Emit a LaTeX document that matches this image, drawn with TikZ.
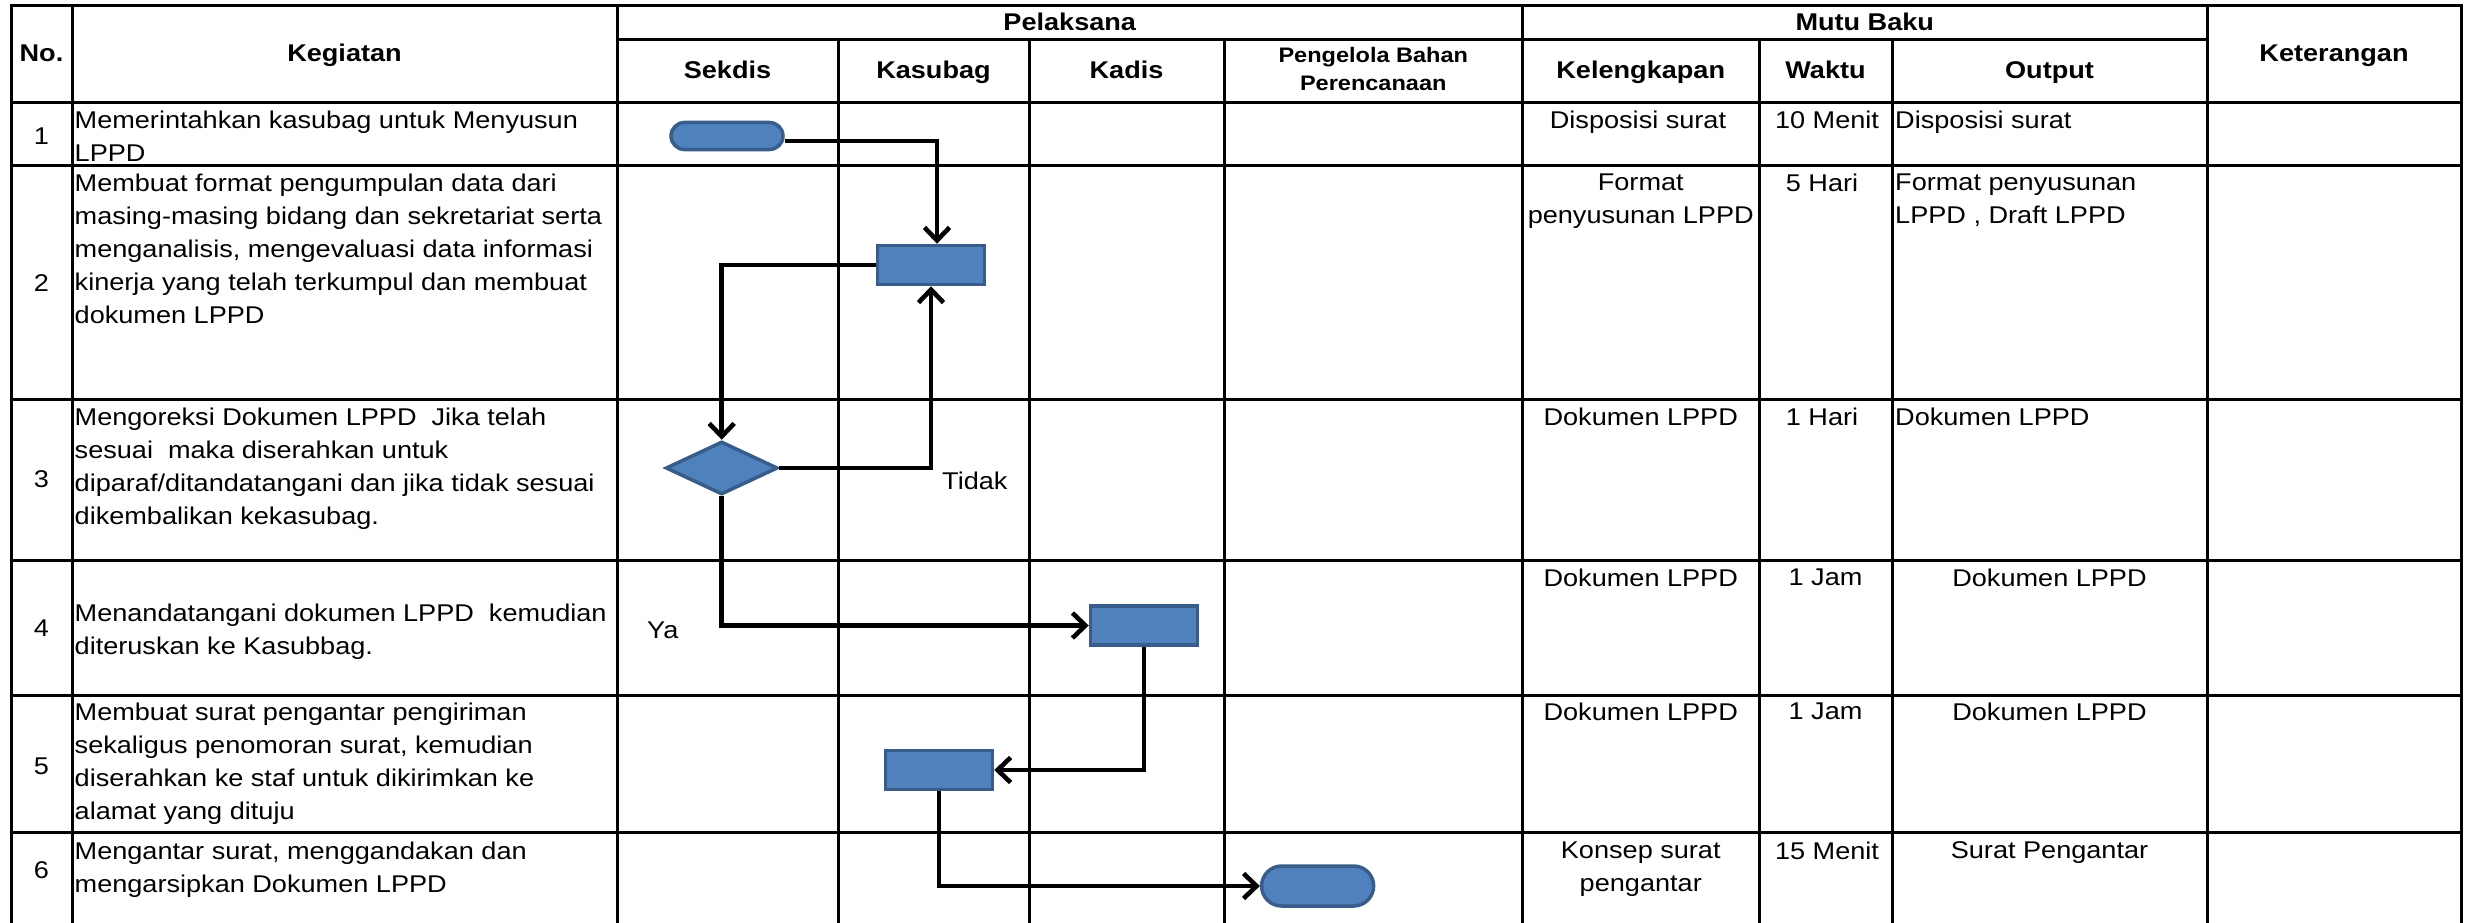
\documentclass[tikz,border=0pt]{standalone}
\usepackage{fontspec}
\setmainfont[FakeStretch=1.12]{Liberation Sans}
\usetikzlibrary{arrows.meta,shapes.geometric,shapes.misc}
\definecolor{shpfill}{RGB}{79,129,189}
\definecolor{shpline}{RGB}{56,93,138}
\tikzset{
  >={Straight Barb[length=13pt,width=25pt]},
  every node/.style={font=\fontsize{24.2}{33}\selectfont},
  tabline/.style={line width=3pt,line cap=rect},
  hd/.style={font=\fontsize{24.2}{33}\selectfont\bfseries,anchor=base,inner sep=0pt},
  cell/.style={anchor=north west,align=left,inner sep=0pt},
  cellc/.style={anchor=north,align=center,inner sep=0pt},
  num/.style={anchor=base,inner sep=0pt},
  shp/.style={draw=shpline,fill=shpfill,line width=3.5pt,inner sep=0pt},
  proc/.style={shp,rectangle,minimum width=107pt,minimum height=39pt},
  term/.style={shp,rounded rectangle,minimum width=112pt},
  dec/.style={shp,diamond,minimum width=112pt,minimum height=53pt},
  flow/.style={->,line width=4.6pt},
  lab/.style={anchor=base west,inner sep=0pt},
}

\begin{document}
\begin{tikzpicture}[x=1pt,y=1pt]
  \path[fill=white,use as bounding box] (0,0) rectangle (2467,-923);

  % table rules
  \foreach \y in {6,102.5,165,399,560,695,832}
    \draw[tabline] (11,-\y) -- (2461,-\y);
  \draw[tabline] (617,-40) -- (2207,-40);
  \foreach \x in {11,72,617,1522.5,2207,2461}
    \draw[tabline] (\x,-6) -- (\x,-930);
  \foreach \x in {838,1029,1224,1759,1892}
    \draw[tabline] (\x,-40) -- (\x,-930);

  % header
  \node[hd] (hno)  at (41.5,-62)    {No.};
  \node[hd] (hkeg) at (344.5,-62)   {Kegiatan};
  \node[hd] (hpel) at (1069.75,-31) {Pelaksana};
  \node[hd] (hmut) at (1864.75,-31) {Mutu Baku};
  \node[hd] (hket) at (2334,-62)    {Keterangan};
  \node[hd] (hsek) at (727.5,-79)   {Sekdis};
  \node[hd] (hksb) at (933.5,-79)   {Kasubag};
  \node[hd] (hkad) at (1126.5,-79)  {Kadis};
  \node[hd,font=\fontsize{21}{28}\selectfont\bfseries,anchor=north,align=center] (hpbp) at (1373.25,-47) {Pengelola Bahan\\Perencanaan};
  \node[hd] (hkel) at (1640.75,-79) {Kelengkapan};
  \node[hd] (hwak) at (1825.5,-79)  {Waktu};
  \node[hd] (hout) at (2049.5,-79)  {Output};

  % row numbers
  \foreach \n/\y in {1/145,2/291,3/487,4/636,5/774,6/878}
    \node[num] (no\n) at (41.5,-\y) {\n};

  % kegiatan
  \node[cell] (keg1) at (74.5,-111)  {Memerintahkan kasubag untuk Menyusun\\LPPD};
  \node[cell] (keg2) at (74.5,-173.5) {Membuat format pengumpulan data dari\\masing-masing bidang dan sekretariat serta\\menganalisis, mengevaluasi data informasi\\kinerja yang telah terkumpul dan membuat\\dokumen LPPD};
  \node[cell] (keg3) at (74.5,-407.5) {Mengoreksi Dokumen LPPD\ \ Jika telah\\sesuai\ \ maka diserahkan untuk\\diparaf/ditandatangani dan jika tidak sesuai\\dikembalikan kekasubag.};
  \node[cell] (keg4) at (74.5,-604)   {Menandatangani dokumen LPPD\ \ kemudian\\diteruskan ke Kasubbag.};
  \node[cell] (keg5) at (74.5,-703)   {Membuat surat pengantar pengiriman\\sekaligus penomoran surat, kemudian\\diserahkan ke staf untuk dikirimkan ke\\alamat yang dituju};
  \node[cell] (keg6) at (74.5,-841.5) {Mengantar surat, menggandakan dan\\mengarsipkan Dokumen LPPD};

  % kelengkapan
  \node[cellc] (kel1) at (1638,-111)    {Disposisi surat};
  \node[cellc] (kel2) at (1640.75,-173.5) {Format\\penyusunan LPPD};
  \node[cellc] (kel3) at (1640.75,-407.5) {Dokumen LPPD};
  \node[cellc] (kel4) at (1640.75,-568.5) {Dokumen LPPD};
  \node[cellc] (kel5) at (1640.75,-703)   {Dokumen LPPD};
  \node[cellc] (kel6) at (1640.75,-841.5) {Konsep surat\\pengantar};

  % waktu
  \node[cellc] (wak1) at (1827,-111)     {10 Menit};
  \node[cellc] (wak2) at (1822,-173.5)   {5 Hari};
  \node[cellc] (wak3) at (1822,-407.5)   {1 Hari};
  \node[cellc] (wak4) at (1825.5,-568.5) {1 Jam};
  \node[cellc] (wak5) at (1825.5,-703)   {1 Jam};
  \node[cellc] (wak6) at (1827,-841.5)   {15 Menit};

  % output
  \node[cell]  (out1) at (1895,-111)     {Disposisi surat};
  \node[cell]  (out2) at (1895,-173.5)   {Format penyusunan\\LPPD , Draft LPPD};
  \node[cell]  (out3) at (1895,-407.5)   {Dokumen LPPD};
  \node[cellc] (out4) at (2049.5,-568.5) {Dokumen LPPD};
  \node[cellc] (out5) at (2049.5,-703)   {Dokumen LPPD};
  \node[cellc] (out6) at (2049.5,-841.5) {Surat Pengantar};

  % flow shapes
  \node[term,minimum height=27pt] (start) at (727,-136)    {};
  \node[proc] (p1) at (931,-265)     {};
  \node[dec]  (d1) at (721.7,-468)   {};
  \node[proc] (p2) at (1144,-625.5)  {};
  \node[proc] (p3) at (939,-770)     {};
  \node[term,minimum height=40pt] (fin) at (1317.6,-886) {};

  % connectors
  \draw[flow] ([yshift=-5pt]start.east) -| ([xshift=6pt]p1.north);
  \draw[flow] (p1.west) -| (d1.north);
  \draw[flow] (d1.east) -| (p1.south);
  \draw[flow] (d1.south) |- (p2.west);
  \draw[flow] (p2.south) |- (p3.east);
  \draw[flow] (p3.south) |- (fin.west);
  \node[lab] (tidak) at (942,-489) {Tidak};
  \node[lab] (ya)    at (647,-638) {Ya};
\end{tikzpicture}
\end{document}
